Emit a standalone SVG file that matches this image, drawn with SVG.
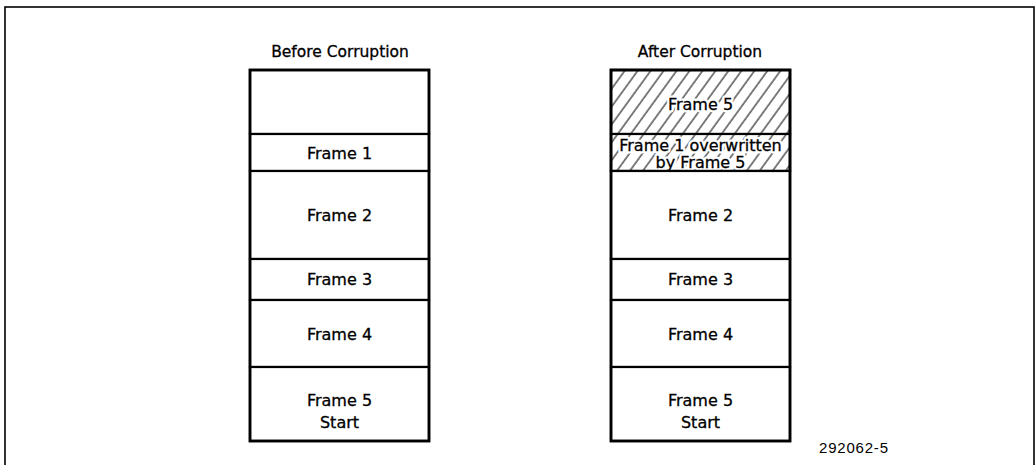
<svg xmlns="http://www.w3.org/2000/svg" width="1035" height="465" viewBox="0 0 1035 465">
<style>
.cell{fill:#fff;stroke:#000;stroke-width:2.2}
.hatch{fill:url(#hatch);stroke:#000;stroke-width:2.2}
.outer{fill:none;stroke:#000;stroke-width:2.8}
.lbl{font-family:"DejaVu Sans",sans-serif;font-size:16px;fill:#000;text-anchor:middle;stroke:#000;stroke-width:0.3}
.halo{fill:#fff;stroke:#fff;stroke-width:5;stroke-linejoin:round}
.title{font-family:"DejaVu Sans",sans-serif;font-size:15.5px;fill:#000;text-anchor:middle;stroke:#000;stroke-width:0.3}
.fig{font-family:"Liberation Sans",Arial,sans-serif;font-size:15px;fill:#000;letter-spacing:0.8px}
</style>
<defs>
<pattern id="hatch" patternUnits="userSpaceOnUse" width="10.5" height="40" patternTransform="rotate(36)">
<rect width="10.5" height="40" fill="#fff"/>
<line x1="1" y1="0" x2="1" y2="40" stroke="#000" stroke-width="1"/>
</pattern>
</defs>
<rect id="page-border" x="5" y="7" width="1029" height="470" fill="none" stroke="#000" stroke-width="1.6"/>

<g id="before-stack">
<text class="title" x="340" y="57">Before Corruption</text>
<g id="b-top"><rect class="cell" x="250" y="70" width="179" height="64"/></g>
<g id="b-frame1"><rect class="cell" x="250" y="134" width="179" height="37"/><text class="lbl" x="339.5" y="159">Frame 1</text></g>
<g id="b-frame2"><rect class="cell" x="250" y="171" width="179" height="88"/><text class="lbl" x="339.5" y="221">Frame 2</text></g>
<g id="b-frame3"><rect class="cell" x="250" y="259" width="179" height="41"/><text class="lbl" x="339.5" y="285">Frame 3</text></g>
<g id="b-frame4"><rect class="cell" x="250" y="300" width="179" height="67"/><text class="lbl" x="339.5" y="340">Frame 4</text></g>
<g id="b-frame5"><rect class="cell" x="250" y="367" width="179" height="74"/><text class="lbl" x="339.5" y="406">Frame 5</text><text class="lbl" x="339.5" y="428">Start</text></g>
<rect class="outer" x="250" y="70" width="179" height="371"/>
</g>

<g id="after-stack">
<text class="title" x="700" y="57">After Corruption</text>
<g id="a-frame5"><rect class="hatch" x="611" y="70" width="179" height="64"/><text class="lbl halo" x="700.5" y="110">Frame 5</text><text class="lbl" x="700.5" y="110">Frame 5</text></g>
<g id="a-frame1"><rect class="hatch" x="611" y="134" width="179" height="37"/><text class="lbl halo" x="700.5" y="151">Frame 1 overwritten</text><text class="lbl halo" x="700.5" y="168">by Frame 5</text><text class="lbl" x="700.5" y="151">Frame 1 overwritten</text><text class="lbl" x="700.5" y="168">by Frame 5</text></g>
<rect class="outer" x="611" y="70" width="179" height="101" style="stroke-width:2.2"/>
<g id="a-frame2"><rect class="cell" x="611" y="171" width="179" height="88"/><text class="lbl" x="700.5" y="221">Frame 2</text></g>
<g id="a-frame3"><rect class="cell" x="611" y="259" width="179" height="41"/><text class="lbl" x="700.5" y="285">Frame 3</text></g>
<g id="a-frame4"><rect class="cell" x="611" y="300" width="179" height="67"/><text class="lbl" x="700.5" y="340">Frame 4</text></g>
<g id="a-frame5start"><rect class="cell" x="611" y="367" width="179" height="74"/><text class="lbl" x="700.5" y="406">Frame 5</text><text class="lbl" x="700.5" y="428">Start</text></g>
<rect class="outer" x="611" y="70" width="179" height="371"/>
</g>

<g id="connectors"/>

<text class="fig" x="819" y="453">292062-5</text>
</svg>
